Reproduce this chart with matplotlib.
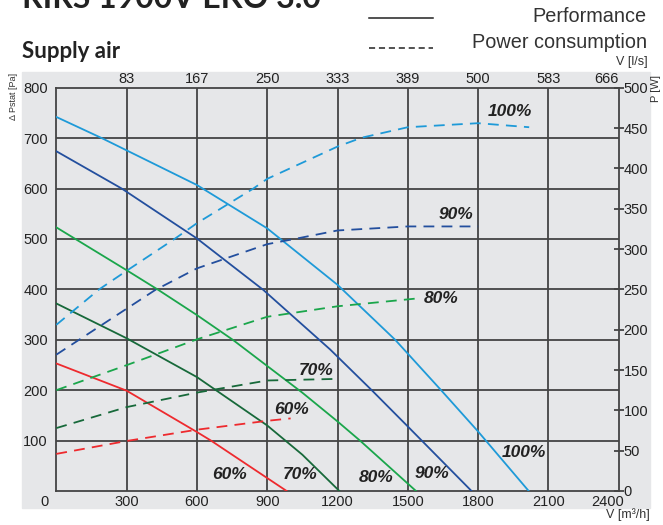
import numpy as np
import matplotlib
matplotlib.use("Agg")
import matplotlib.pyplot as plt
from matplotlib.lines import Line2D
from matplotlib.patches import Rectangle

# performance curves: airflow [m3/h] vs static pressure [Pa]
perf_100_x = [0, 194, 600, 900, 1200, 1446, 1642, 1800, 2016]
perf_100_y = [742, 700, 607, 521, 409, 300, 200, 118, 0]
perf_90_x = [0, 279, 600, 883, 1168, 1346, 1500, 1772]
perf_90_y = [674, 600, 501, 399, 281, 200, 128, 0]
perf_80_x = [0, 300, 435, 600, 753, 900, 1050, 1200, 1296, 1535]
perf_80_y = [523, 438, 399, 349, 300, 248, 195, 138, 100, 0]
perf_70_x = [0, 300, 600, 900, 1050, 1208]
perf_70_y = [372, 303, 226, 130, 72, 0]
perf_60_x = [0, 300, 600, 660, 983]
perf_60_y = [253, 199, 117, 100, 0]

# power consumption curves: airflow [m3/h] vs power [W]
pow_100_x = [0, 183, 300, 507, 600, 841, 900, 1200, 1303, 1500, 1800, 2018]
pow_100_y = [206, 250, 273, 313, 332, 375, 387, 427, 438, 451, 456, 451]
pow_90_x = [0, 300, 421, 600, 900, 1026, 1200, 1500, 1800]
pow_90_y = [169, 226, 249, 276, 306, 313, 323, 328, 328]
pow_80_x = [0, 300, 600, 900, 1200, 1550]
pow_80_y = [125, 156, 188, 216, 229, 239]
pow_70_x = [0, 300, 600, 900, 1200]
pow_70_y = [78, 104, 122, 137, 139]
pow_60_x = [0, 300, 600, 900, 1000]
pow_60_y = [46, 62, 76, 87, 90]

x_ticks = [300, 600, 900, 1200, 1500, 1800, 2100]
top_labels = ["83", "167", "250", "333", "389", "500", "583", "666"]
top_pos = [300, 600, 900, 1200, 1500, 1800, 2100, 2400]
y_ticks = [100, 200, 300, 400, 500, 600, 700, 800]
p_ticks = [0, 50, 100, 150, 200, 250, 300, 350, 400, 450, 500]

c100 = "#1e9ad8"
c90 = "#234f9e"
c80 = "#1aa64b"
c70 = "#17693a"
c60 = "#ee2a2e"

W, H = 663, 525
fig = plt.figure(figsize=(W / 100, H / 100), dpi=100)
plt.rcParams['font.family'] = ['Liberation Sans', 'DejaVu Sans']


def fx(px):
    return px / W


def fy(py):
    return 1 - py / H


bg = "#e6e7e9"
fig.add_artist(Rectangle((fx(22), fy(508)), fx(650) - fx(22), fy(72) - fy(508),
                         transform=fig.transFigure, color=bg, zorder=0))

ax = fig.add_axes([fx(56.3), fy(491), fx(618.7) - fx(56.3), fy(87.7) - fy(491)])
ax.set_facecolor(bg)
ax.set_xlim(0, 2400)
ax.set_ylim(0, 800)

grid_c = "#444444"
for x in x_ticks:
    ax.axvline(x, color=grid_c, lw=1.3, zorder=1)
for y in y_ticks[:-1]:
    ax.axhline(y, color=grid_c, lw=1.3, zorder=1)
for s in ax.spines.values():
    s.set_color(grid_c)
    s.set_linewidth(1.3)

ax.set_xticks(x_ticks)
ax.set_xticklabels([str(v) for v in x_ticks])
ax.set_yticks(y_ticks)
ax.set_yticklabels([str(v) for v in y_ticks])
ax.tick_params(length=0, labelsize=10.5, colors="#222222", pad=6)
ax.tick_params(axis="x", pad=3)
ax.text(-52, -22, "0", ha="center", va="center", fontsize=10.5, color="#222222", clip_on=False)
ax.text(2354, -22, "2400", ha="center", va="center", fontsize=10.5, color="#222222", clip_on=False)

lw = 1.3
ax.plot(perf_100_x, perf_100_y, color=c100, lw=lw, zorder=3)
ax.plot(perf_90_x, perf_90_y, color=c90, lw=lw, zorder=3)
ax.plot(perf_80_x, perf_80_y, color=c80, lw=lw, zorder=3)
ax.plot(perf_70_x, perf_70_y, color=c70, lw=lw, zorder=3)
ax.plot(perf_60_x, perf_60_y, color=c60, lw=lw, zorder=3)

ax2 = ax.twinx()
ax2.set_ylim(0, 500)
ax2.set_yticks(p_ticks)
ax2.set_yticklabels([str(v) for v in p_ticks])
ax2.tick_params(axis="y", direction="inout", length=7, width=1.3, color=grid_c,
                labelsize=10.5, labelcolor="#222222", pad=0)
for s in ax2.spines.values():
    s.set_visible(False)

dash = (0, (6, 4))
ax2.plot(pow_100_x, pow_100_y, color=c100, lw=lw, ls=dash, zorder=3)
ax2.plot(pow_90_x, pow_90_y, color=c90, lw=lw, ls=dash, zorder=3)
ax2.plot(pow_80_x, pow_80_y, color=c80, lw=lw, ls=dash, zorder=3)
ax2.plot(pow_70_x, pow_70_y, color=c70, lw=lw, ls=dash, zorder=3)
ax2.plot(pow_60_x, pow_60_y, color=c60, lw=lw, ls=dash, zorder=3)

ax3 = ax.twiny()
ax3.set_xlim(0, 2400)
ax3.set_xticks(top_pos)
ax3.set_xticklabels(top_labels)
ax3.tick_params(length=0, labelsize=10.5, labelcolor="#222222", pad=1)
for s in ax3.spines.values():
    s.set_visible(False)
ax3.get_xticklabels()[-1].set_horizontalalignment("right")

# percentage labels
lab = dict(fontsize=12.5, fontweight="bold", fontstyle="italic", color="#222222",
           ha="center", va="center", zorder=5)
ax.text(1936, 752, "100%", **lab)
ax.text(1706, 548, "90%", **lab)
ax.text(1642, 381, "80%", **lab)
ax.text(1108, 240, "70%", **lab)
ax.text(1002, 161, "60%", **lab)
ax.text(741, 32, "60%", **lab)
ax.text(1040, 32, "70%", **lab)
ax.text(1364, 26, "80%", **lab)
ax.text(1603, 34, "90%", **lab)
ax.text(1996, 77, "100%", **lab)

# axis titles
fig.text(fx(14), fy(73), "\u0394 Pstat [Pa]", rotation=90, ha="center", va="top",
         fontsize=6.5, color="#333333")
fig.text(fx(648), fy(62), "V [l/s]", ha="right", va="center", fontsize=9, color="#333333")
fig.text(fx(656), fy(75), "P [W]", rotation=90, ha="center", va="top", fontsize=8, color="#333333")
fig.text(fx(650), fy(515), "V [m\u00b3/h]", ha="right", va="center", fontsize=9, color="#333333")

# headings
fig.text(fx(22), fy(8), "RIRS 1900V EKO 3.0", ha="left", va="baseline",
         fontsize=23, fontweight="bold", family="Lato", color="#222222")
fig.text(fx(22), fy(52), "Supply air", ha="left", va="center",
         fontsize=16, fontweight="bold", family="Lato", color="#222222")

# legend
fig.add_artist(Line2D([fx(369), fx(433)], [fy(18), fy(18)], color="#222222", lw=1.1,
                      transform=fig.transFigure))
fig.add_artist(Line2D([fx(369), fx(433)], [fy(48), fy(48)], color="#222222", lw=1.1,
                      ls=(0, (4, 2.5)), transform=fig.transFigure))
fig.text(fx(647), fy(16), "Performance", ha="right", va="center", fontsize=14.3, color="#333333")
fig.text(fx(647), fy(43), "Power consumption", ha="right", va="center", fontsize=14.3, color="#333333")

fig.savefig("out.png", dpi=100)
